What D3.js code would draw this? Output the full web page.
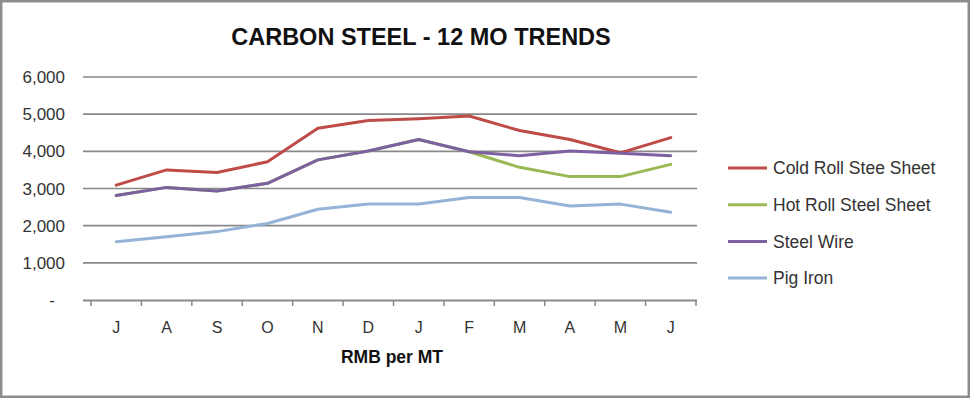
<!DOCTYPE html>
<html>
<head>
<meta charset="utf-8">
<script src="https://cdn.jsdelivr.net/npm/d3@7"></script>
<style>
  html, body { margin: 0; padding: 0; background: #fff; }
  svg { display: block; font-family: "Liberation Sans", Arial, sans-serif; }
</style>
</head>
<body>
<div id="chart"></div>
<script>
const months = ["J", "A", "S", "O", "N", "D", "J", "F", "M", "A", "M", "J"];
const yTicks = [0, 1000, 2000, 3000, 4000, 5000, 6000];

const coldRoll = [3090, 3500, 3430, 3720, 4620, 4830, 4880, 4950, 4560, 4320, 3960, 4370];
const hotRoll  = [2810, 3030, 2930, 3140, 3770, 4010, 4320, 3990, 3570, 3320, 3320, 3650];
const steelWire = [2810, 3030, 2930, 3140, 3770, 4010, 4320, 3990, 3880, 4010, 3950, 3880];
const pigIron  = [1570, 1700, 1840, 2060, 2440, 2580, 2580, 2760, 2760, 2530, 2580, 2360];

const seriesNames = ["Cold Roll Stee Sheet", "Hot Roll Steel Sheet", "Steel Wire", "Pig Iron"];
const seriesValues = [coldRoll, hotRoll, steelWire, pigIron];
const seriesColors = ["#BE4B48", "#98B954", "#7D60A0", "#95B3D7"];

const width = 970, height = 398;
const svg = d3.select("#chart").append("svg")
  .attr("width", width)
  .attr("height", height);

// outer frame
svg.append("rect")
  .attr("x", 1.2)
  .attr("y", 1.2)
  .attr("width", width - 2.4)
  .attr("height", height - 2.4)
  .attr("fill", "none")
  .attr("stroke", "#8c8c8c")
  .attr("stroke-width", 2.5);

const plot = {left: 83, right: 697, top: 77, bottom: 300};

const x = d3.scaleBand()
  .domain(d3.range(months.length))
  .range([91, 696]);

const y = d3.scaleLinear()
  .domain([0, 6000])
  .range([plot.bottom, plot.top]);

// title
svg.append("text")
  .attr("x", 421)
  .attr("y", 45)
  .attr("text-anchor", "middle")
  .style("font-weight", "bold")
  .style("font-size", "23.5px")
  .style("fill", "#111")
  .text("CARBON STEEL - 12 MO TRENDS");

// gridlines
svg.append("g")
  .selectAll("line")
  .data(yTicks.filter(d => d > 0))
  .enter().append("line")
  .attr("x1", plot.left)
  .attr("x2", plot.right)
  .attr("y1", d => y(d))
  .attr("y2", d => y(d))
  .attr("stroke", "#898989")
  .attr("stroke-width", 1.6);

// y axis labels
svg.append("g")
  .selectAll("text")
  .data(yTicks)
  .enter().append("text")
  .attr("x", d => d === 0 ? 55 : 65)
  .attr("y", d => y(d))
  .attr("dy", "0.36em")
  .attr("text-anchor", "end")
  .style("font-size", "17px")
  .style("fill", "#333")
  .text(d => d === 0 ? "-" : d3.format(",")(d));

// x axis
const xAxis = svg.append("g")
  .attr("transform", `translate(0, ${plot.bottom})`)
  .call(d3.axisBottom(x).tickValues([]).tickSizeOuter(0));
xAxis.select(".domain")
  .attr("d", `M${plot.left},0.5H${plot.right}`)
  .attr("stroke", "#898989")
  .attr("stroke-width", 2);

const tickPos = d3.range(months.length + 1).map(i => i < months.length ? x(i) : x.range()[1]);
xAxis.selectAll(".tk")
  .data(tickPos)
  .enter().append("line")
  .attr("class", "tk")
  .attr("x1", d => d)
  .attr("x2", d => d)
  .attr("y1", 0)
  .attr("y2", 6)
  .attr("stroke", "#898989")
  .attr("stroke-width", 1.5);

xAxis.selectAll(".lbl")
  .data(months)
  .enter().append("text")
  .attr("class", "lbl")
  .attr("x", (d, i) => x(i) + x.bandwidth() / 2)
  .attr("y", 27)
  .attr("dy", "0.36em")
  .attr("text-anchor", "middle")
  .style("font-size", "16px")
  .style("fill", "#333")
  .text(d => d);

svg.append("text")
  .attr("x", 392)
  .attr("y", 357)
  .attr("dy", "0.36em")
  .attr("text-anchor", "middle")
  .style("font-weight", "bold")
  .style("font-size", "17.5px")
  .style("fill", "#111")
  .text("RMB per MT");

// lines
const line = d3.line()
  .x((d, i) => x(i) + x.bandwidth() / 2)
  .y(d => y(d));

svg.append("g")
  .selectAll("path")
  .data(seriesValues)
  .enter().append("path")
  .attr("d", d => line(d))
  .attr("fill", "none")
  .attr("stroke", (d, i) => seriesColors[i])
  .attr("stroke-width", 3)
  .attr("stroke-linejoin", "round")
  .attr("stroke-linecap", "round");

// legend
const legend = svg.append("g")
  .selectAll("g")
  .data(seriesNames)
  .enter().append("g")
  .attr("transform", (d, i) => `translate(728, ${168 + i * 36.7})`);

legend.append("line")
  .attr("x1", 0)
  .attr("x2", 39)
  .attr("stroke", (d, i) => seriesColors[i])
  .attr("stroke-width", 3);

legend.append("text")
  .attr("x", 45)
  .attr("dy", "0.36em")
  .style("font-size", "17.5px")
  .style("fill", "#333")
  .text(d => d);
</script>
</body>
</html>
